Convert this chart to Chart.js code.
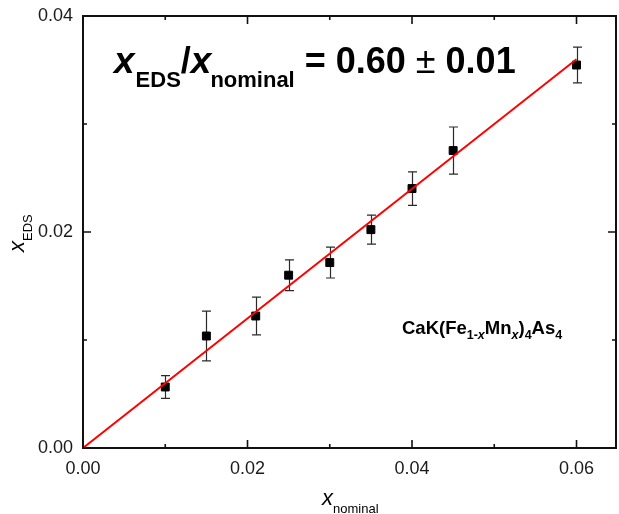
<!DOCTYPE html>
<html>
<head>
<meta charset="utf-8">
<script src="https://cdn.jsdelivr.net/npm/chart.js@4.4.1/dist/chart.umd.min.js"></script>
<style>
  html, body { margin: 0; padding: 0; background: #fff; }
  #wrap { width: 619px; height: 514px; }
</style>
</head>
<body>
<div id="wrap"><canvas id="chart" width="619" height="514"></canvas></div>
<script>
// nominal Mn content vs. EDS-measured content
const xNominal = [0.010, 0.015, 0.021, 0.025, 0.030, 0.035, 0.040, 0.045, 0.060];
const xEds     = [0.00565, 0.01037, 0.01222, 0.01600, 0.01717, 0.02022, 0.02402, 0.02754, 0.03546];
const xEdsErr  = [0.00105, 0.00230, 0.00175, 0.00142, 0.00143, 0.00135, 0.00155, 0.00218, 0.00165];

// linear fit through the origin
const FIT_SLOPE = 0.60;
const FIT_ERR = 0.01;
const fitRange = [0, 0.06];

const xTickValues = [0, 0.01, 0.02, 0.03, 0.04, 0.05, 0.06];
const yTickValues = [0, 0.01, 0.02, 0.03, 0.04];

const FONT = "'Liberation Sans', Arial, sans-serif";

const points = xNominal.map((x, i) => ({ x: x, y: xEds[i], err: xEdsErr[i] }));
const fitLine = fitRange.map(x => ({ x: x, y: FIT_SLOPE * x }));

function isMajor(v) {
    return Math.round(v * 100) % 2 === 0;
}

// draw a sequence of text runs, each with its own font and baseline shift
function drawRuns(ctx, x, y, runs) {
    let cx = x;
    runs.forEach(r => {
        ctx.font = r.font;
        ctx.fillText(r.text, cx, y + (r.dy || 0));
        cx += ctx.measureText(r.text).width + (r.gap || 0);
    });
}

const framePlugin = {
    id: 'frame',
    beforeDraw(chart) {
        const ctx = chart.ctx;
        ctx.save();
        ctx.fillStyle = '#fff';
        ctx.fillRect(0, 0, chart.width, chart.height);
        ctx.restore();
    },
    beforeDatasetsDraw(chart) {
        // error bars under the markers
        const { ctx, scales: { x, y } } = chart;
        ctx.save();
        ctx.strokeStyle = '#2a2a2a';
        ctx.lineWidth = 1.2;
        points.forEach(p => {
            const px = Math.round(x.getPixelForValue(p.x)) + 0.5;
            const top = y.getPixelForValue(p.y + p.err);
            const bot = y.getPixelForValue(p.y - p.err);
            ctx.beginPath();
            ctx.moveTo(px, top);
            ctx.lineTo(px, bot);
            ctx.moveTo(px - 4.5, top);
            ctx.lineTo(px + 4.5, top);
            ctx.moveTo(px - 4.5, bot);
            ctx.lineTo(px + 4.5, bot);
            ctx.stroke();
        });
        ctx.restore();
    },
    afterDraw(chart) {
        const { ctx, chartArea: a, scales: { x, y } } = chart;
        ctx.save();

        // box
        ctx.strokeStyle = '#111';
        ctx.lineWidth = 2;
        ctx.strokeRect(a.left, a.top, a.right - a.left, a.bottom - a.top);

        // inward ticks on all four sides
        ctx.lineWidth = 1.6;
        ctx.beginPath();
        xTickValues.forEach(v => {
            const px = x.getPixelForValue(v);
            const len = isMajor(v) ? 8 : 4;
            ctx.moveTo(px, a.bottom);
            ctx.lineTo(px, a.bottom - len);
            ctx.moveTo(px, a.top);
            ctx.lineTo(px, a.top + len);
        });
        yTickValues.forEach(v => {
            const py = y.getPixelForValue(v);
            const len = isMajor(v) ? 8 : 4;
            ctx.moveTo(a.left, py);
            ctx.lineTo(a.left + len, py);
            ctx.moveTo(a.right, py);
            ctx.lineTo(a.right - len, py);
        });
        ctx.stroke();

        ctx.fillStyle = '#000';
        ctx.textAlign = 'left';
        ctx.textBaseline = 'alphabetic';

        // fit result
        drawRuns(ctx, 114, 73, [
            { text: 'x', font: `italic bold 37px ${FONT}`, gap: 1 },
            { text: 'EDS', font: `bold 22px ${FONT}`, dy: 14 },
            { text: '/', font: `bold 36px ${FONT}` },
            { text: 'x', font: `italic bold 37px ${FONT}`, gap: -1 },
            { text: 'nominal', font: `bold 22px ${FONT}`, dy: 14 },
            { text: ' = ' + FIT_SLOPE.toFixed(2) + ' ', font: `bold 36px ${FONT}` },
            { text: '\u00B1', font: `36px ${FONT}` },
            { text: ' ' + FIT_ERR.toFixed(2), font: `bold 36px ${FONT}` }
        ]);

        // compound label
        drawRuns(ctx, 402, 334, [
            { text: 'CaK(Fe', font: `bold 18.5px ${FONT}` },
            { text: '1-', font: `bold 12.5px ${FONT}` , dy: 5 },
            { text: 'x', font: `italic bold 12.5px ${FONT}`, dy: 5 },
            { text: 'Mn', font: `bold 18.5px ${FONT}` },
            { text: 'x', font: `italic bold 12.5px ${FONT}`, dy: 5 },
            { text: ')', font: `bold 18.5px ${FONT}` },
            { text: '4', font: `bold 12.5px ${FONT}`, dy: 5 },
            { text: 'As', font: `bold 18.5px ${FONT}` },
            { text: '4', font: `bold 12.5px ${FONT}`, dy: 5 }
        ]);

        // x axis title
        drawRuns(ctx, 322, 505, [
            { text: 'x', font: `italic 22px ${FONT}` },
            { text: 'nominal', font: `13px ${FONT}`, dy: 8 }
        ]);

        // y axis title, rotated
        ctx.translate(24, 252);
        ctx.rotate(-Math.PI / 2);
        drawRuns(ctx, 0, 0, [
            { text: 'x', font: `italic 22px ${FONT}` },
            { text: 'EDS', font: `13px ${FONT}`, dy: 8 }
        ]);

        ctx.restore();
    }
};

new Chart(document.getElementById('chart'), {
    type: 'scatter',
    data: {
        datasets: [
            {
                label: 'EDS',
                data: points,
                pointStyle: 'rect',
                pointRadius: 5.6,
                backgroundColor: '#000',
                borderColor: '#000',
                borderWidth: 1,
                order: 2
            },
            {
                label: 'fit',
                type: 'line',
                data: fitLine,
                borderColor: '#ff0000',
                borderWidth: 2,
                pointRadius: 0,
                fill: false,
                order: 1
            }
        ]
    },
    options: {
        responsive: false,
        animation: false,
        layout: { autoPadding: false, padding: { top: 16, right: 3, left: 0, bottom: 0 } },
        plugins: {
            legend: { display: false },
            tooltip: { enabled: false }
        },
        scales: {
            x: {
                type: 'linear',
                min: 0,
                max: 0.0648,
                afterFit(scale) {
                    scale.height = 66;
                    scale.paddingLeft = 0;
                    scale.paddingRight = 0;
                },
                grid: { display: false, drawTicks: false },
                border: { display: false },
                ticks: {
                    stepSize: 0.01,
                    includeBounds: false,
                    autoSkip: false,
                    maxRotation: 0,
                    padding: 10,
                    color: '#1a1a1a',
                    font: { family: FONT, size: 18 },
                    callback: v => isMajor(v) ? v.toFixed(2) : ''
                }
            },
            y: {
                type: 'linear',
                min: 0,
                max: 0.04,
                afterFit(scale) {
                    scale.width = 83;
                    scale.paddingTop = 0;
                    scale.paddingBottom = 0;
                },
                grid: { display: false, drawTicks: false },
                border: { display: false },
                ticks: {
                    stepSize: 0.01,
                    autoSkip: false,
                    padding: 10,
                    color: '#1a1a1a',
                    font: { family: FONT, size: 18 },
                    callback: v => isMajor(v) ? v.toFixed(2) : ''
                }
            }
        }
    },
    plugins: [framePlugin]
});
</script>
</body>
</html>
